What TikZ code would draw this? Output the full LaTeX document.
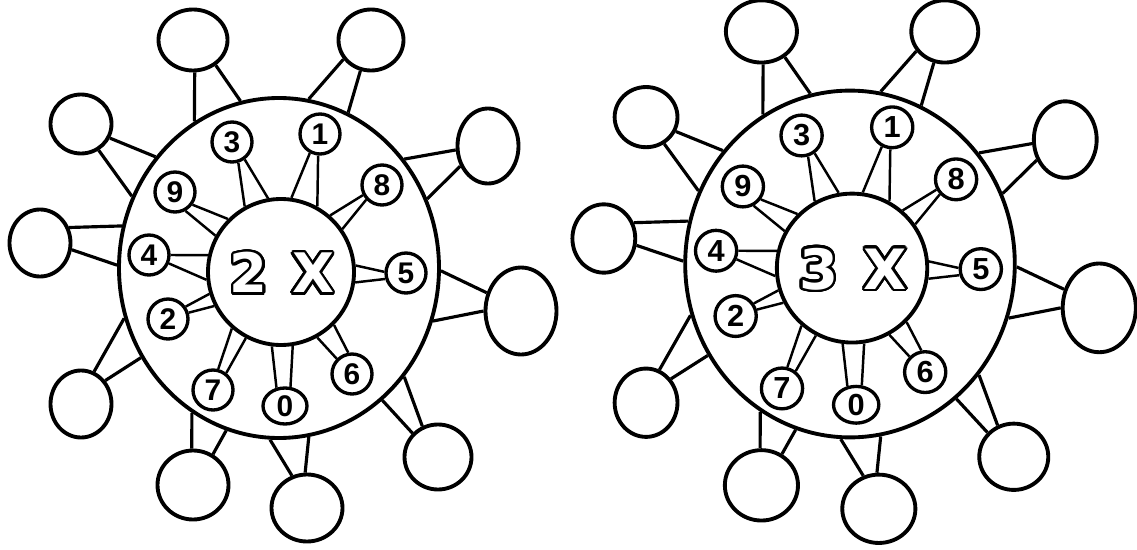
\documentclass[tikz,border=0pt]{standalone}
\usepackage{fontspec}
\setmainfont{Liberation Sans}
\newfontfamily\heavyfont{DejaVu Sans}
\usepackage[copies]{contour}
\usetikzlibrary{shapes.geometric}

\contourlength{1.4pt}
\contournumber{32}

\begin{document}
\begin{tikzpicture}[x=0.02cm, y=0.02cm, line join=round,
    ring/.style={ellipse, draw, line width=2.2pt, inner sep=0pt,
      minimum width=320*0.02cm, minimum height=340*0.02cm},
    hub/.style={circle, draw, line width=2.2pt, inner sep=0pt, minimum size=146*0.02cm},
    ball/.style 2 args={ellipse, draw, line width=2.2pt, inner sep=0pt,
      minimum width=#1*0.02cm, minimum height=#2*0.02cm},
    digit/.style 2 args={ellipse, draw, line width=1.9pt, inner sep=0pt,
      minimum width=#1*0.02cm, minimum height=#2*0.02cm,
      font=\fontsize{17}{17}\selectfont\bfseries},
    stick/.style={line width=1.8pt},
    twig/.style={line width=1.4pt}]
  \useasboundingbox (0,0) rectangle (1137,549);
  \foreach \side/\lab/\sx/\sy/\xs/\ys in {L/2/279/281/1/1, R/3/850/285/1.03/1.02} {
    \begin{scope}[shift={(\sx,\sy)}, xscale=\xs, yscale=\ys, transform shape]
      \node[ring] (\side-ring) at (0,0) {};
      \node[hub] (\side-hub) at (2,-4) {};
      \node[text=white, font=\heavyfont\bfseries\fontsize{31}{31}\selectfont]
        (\side-times) at (3,-6) {\contour{black}{\lab\hskip0.45em X}};
      % outer balls
      \foreach \n/\x/\y/\bw/\bh/\ca/\ra/\cb/\rb in {
          tl/-86/228/69/61/273/120/312/103,
          tr/92/228/65/61/215/80/251/66,
          lu/-198/144/61/59/334/138/304/154,
          ru/209/122/61/75/187/41/216/25,
          lm/-239/25/61/67/28/165/348/179,
          rm/242/-43/71/87/152/359/180/341,
          ll/-198/-136/61/67/68/198/44/213,
          bl/-86/-217/71/69/92/239/57/252,
          bm/28/-240/71/67/115/267/93/280,
          br/159/-189/67/65/137/308/117/319} {
        \node[ball={\bw}{\bh}] (\side-\n) at (\x,\y) {};
        \draw[stick] (\side-\n.\ca) -- (\side-ring.\ra)
                     (\side-\n.\cb) -- (\side-ring.\rb);
      }
      % digits
      \foreach \d/\x/\y/\dw/\dh/\ca/\ia/\cb/\ib in {
          3/-47/126/40/40/287/119/306/100,
          1/41/134/40/40/242/82/265/61,
          9/-104/76/40/40/324/135/299/151,
          8/103/83/40/40/208/49/223/35,
          4/-130/13/40/40/0/167/337/186,
          5/127/-5/40/40/177/5/196/352,
          2/-111/-51/40/40/35/197/17/207,
          6/73/-106/40/40/135/299/100/315,
          7/-66/-122/40/40/76/229/52/242,
          0/6/-138/44/36/115/263/74/279} {
        \node[digit={\dw}{\dh}] (\side-n\d) at (\x,\y) {\d};
        \draw[twig] (\side-n\d.\ca) -- (\side-hub.\ia)
                    (\side-n\d.\cb) -- (\side-hub.\ib);
      }
    \end{scope}
  }
\end{tikzpicture}
\end{document}
